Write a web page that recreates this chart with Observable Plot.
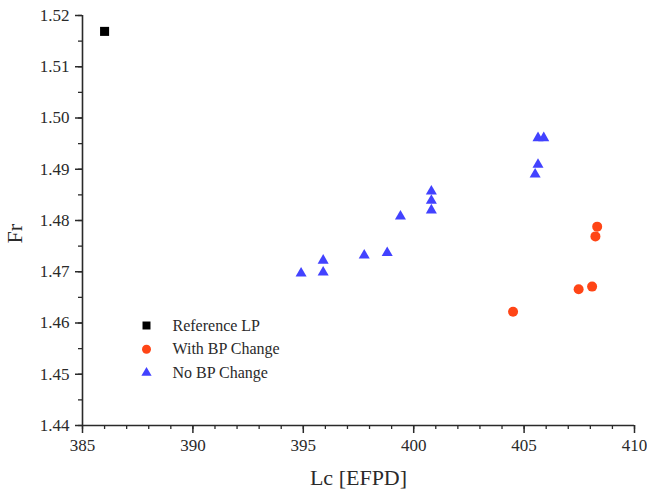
<!DOCTYPE html>
<html>
<head>
<meta charset="utf-8">
<script src="https://cdn.jsdelivr.net/npm/d3@7"></script>
<script src="https://cdn.jsdelivr.net/npm/@observablehq/plot@0.6"></script>
<style>
  html, body { margin: 0; padding: 0; background: #fff; }
  #chart svg { display: block; }
  #chart svg text { font-family: 'Liberation Serif', 'Times New Roman', serif !important; font-variant: normal !important; }
</style>
</head>
<body>
<div id="chart"></div>
<script>
// ---- data ----
const seriesNames = ["Reference LP", "With BP Change", "No BP Change"];
const seriesSymbols = ["square", "circle", "triangle"];
const seriesColors = ["#000000", "#ff4516", "#4242ff"];

const refLc = [386.0];
const refFr = [1.5169];

const withLc = [404.5, 407.47, 408.08, 408.23, 408.31];
const withFr = [1.4622, 1.4666, 1.4671, 1.4769, 1.4788];

const noLc = [394.9, 395.9, 395.9, 397.76, 398.8, 399.4, 400.8, 400.8, 400.8, 405.5, 405.63, 405.63, 405.89];
const noFr = [1.4697, 1.4699, 1.4722, 1.4732, 1.4737, 1.4808, 1.4820, 1.4839, 1.4857, 1.4890, 1.4909, 1.4961, 1.4961];

const xTicks = [385, 390, 395, 400, 405, 410];
const yTicks = [1.44, 1.45, 1.46, 1.47, 1.48, 1.49, 1.50, 1.51, 1.52];
const xMinorTicks = d3.range(385, 410.5, 1);
const yMinorTicks = d3.range(1.44, 1.5225, 0.005);

const xLabel = "Lc [EFPD]";
const yLabel = "Fr";

// ---- build tables ----
const seriesData = [[refLc, refFr], [withLc, withFr], [noLc, noFr]].map(([xs, ys], i) =>
  xs.map((x, j) => ({lc: x, fr: ys[j], series: seriesNames[i]}))
);
const symbolR = [5.1, 5, 4.1];
const legendR = [4.5, 4.5, 3.8];

const ink = "#2a2a2a";
const font = "'Liberation Serif', 'Times New Roman', serif";

const marks = [
  // minor ticks
  Plot.axisX({ticks: xMinorTicks, tickSize: 4, tickFormat: () => "", stroke: ink, strokeWidth: 1.3, label: null}),
  Plot.axisY({ticks: yMinorTicks, tickSize: 4, tickFormat: () => "", stroke: ink, strokeWidth: 1.3, label: null}),
  // major ticks
  Plot.axisX({ticks: xTicks, tickSize: 8, tickPadding: 5, tickFormat: d => String(d), stroke: ink, strokeWidth: 1.5, fill: ink, fontSize: 17, fontFamily: font, label: null}),
  Plot.axisY({ticks: yTicks, tickSize: 7, tickPadding: 6, tickFormat: d => d.toFixed(2), stroke: ink, strokeWidth: 1.5, fill: ink, fontSize: 17, fontFamily: font, label: null}),
  // axis lines
  Plot.ruleY([1.44], {stroke: ink, strokeWidth: 1.6}),
  Plot.ruleX([385], {stroke: ink, strokeWidth: 1.6}),
];

// data, one mark per series
seriesData.forEach((data, i) => {
  marks.push(Plot.dot(data, {x: "lc", y: "fr", symbol: "series", fill: "series", r: symbolR[i]}));
});

// legend
seriesNames.forEach((name, i) => {
  marks.push(Plot.dot([name], {
    frameAnchor: "top-left", dx: 64, dy: 310 + i * 23.7,
    symbol: d => d, fill: d => d, r: legendR[i]
  }));
  marks.push(Plot.text([name], {
    frameAnchor: "top-left", dx: 90, dy: 310 + i * 23.7,
    text: d => d, textAnchor: "start", lineAnchor: "middle",
    fontSize: 16, fill: ink, fontFamily: font
  }));
});

// axis titles
marks.push(Plot.text([xLabel], {
  frameAnchor: "bottom", dy: 52, text: d => d, lineAnchor: "middle",
  fontSize: 22, fill: ink, fontFamily: font
}));
marks.push(Plot.text([yLabel], {
  frameAnchor: "left", dx: -68, dy: 23, rotate: -90, text: d => d, lineAnchor: "middle",
  fontSize: 22, fill: ink, fontFamily: font
}));

const chart = Plot.plot({
  width: 647,
  height: 497,
  marginTop: 15,
  marginBottom: 72,
  marginLeft: 82,
  marginRight: 13,
  style: {fontFamily: font, background: "#fff", color: ink},
  x: {domain: [385, 410], axis: null},
  y: {domain: [1.44, 1.52], axis: null},
  symbol: {domain: seriesNames, range: seriesSymbols},
  color: {domain: seriesNames, range: seriesColors},
  marks
});

document.getElementById("chart").appendChild(chart);
</script>
</body>
</html>
